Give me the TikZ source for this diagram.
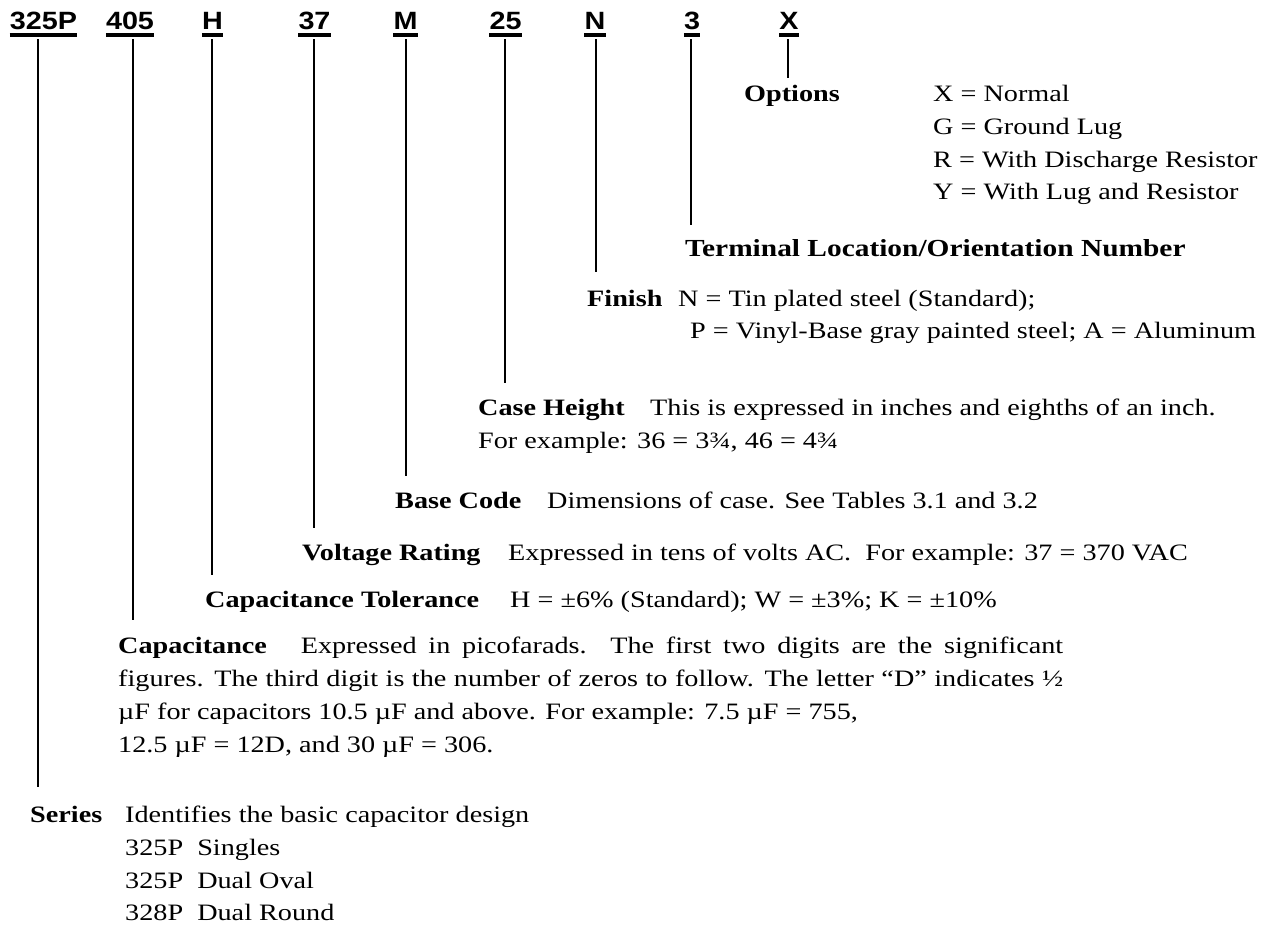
\documentclass[tikz,border=0pt]{standalone}
\usepackage{fontspec}
\setmainfont{Liberation Serif}[FakeStretch=1.2]
\setsansfont{Liberation Sans}[FakeStretch=1.15]
\usetikzlibrary{positioning}

\tikzset{
  codelbl/.style={font=\fontsize{25}{30}\selectfont\sffamily\bfseries, inner sep=0pt, anchor=base, text depth=9pt},
  uline/.style={line width=3.3pt},
  lead/.style={line width=2.2pt},
  desc/.style={font=\fontsize{23.5}{33}\selectfont, inner sep=0pt, anchor=base west},
  head/.style={desc, font=\fontsize{23.5}{33}\selectfont\bfseries},
}

\begin{document}
\begin{tikzpicture}[x=1pt,y=-1pt]
\fill[white] (0,0) rectangle (1276,925);
% part number
\node[codelbl] (c325) at (43.5,30) {325P};
\node[codelbl] (c405) at (130,30) {405};
\node[codelbl] (cH) at (212.5,30) {H};
\node[codelbl] (c37) at (314.5,30) {37};
\node[codelbl] (cM) at (405.5,30) {M};
\node[codelbl] (c25) at (505.5,30) {25};
\node[codelbl] (cN) at (595,30) {N};
\node[codelbl] (c3) at (692,30) {3};
\node[codelbl] (cX) at (789,30) {X};
\draw[uline] ([yshift=-5pt]c325.base west) -- ([yshift=-5pt]c325.base east);
\draw[uline] ([yshift=-5pt]c405.base west) -- ([yshift=-5pt]c405.base east);
\draw[uline] ([yshift=-5pt]cH.base west) -- ([yshift=-5pt]cH.base east);
\draw[uline] ([yshift=-5pt]c37.base west) -- ([yshift=-5pt]c37.base east);
\draw[uline] ([yshift=-5pt]cM.base west) -- ([yshift=-5pt]cM.base east);
\draw[uline] ([yshift=-5pt]c25.base west) -- ([yshift=-5pt]c25.base east);
\draw[uline] ([yshift=-5pt]cN.base west) -- ([yshift=-5pt]cN.base east);
\draw[uline] ([yshift=-5pt]c3.base west) -- ([yshift=-5pt]c3.base east);
\draw[uline] ([yshift=-5pt]cX.base west) -- ([yshift=-5pt]cX.base east);
% ends of the leads
\coordinate (e325) at (38,787);
\coordinate (e405) at (133,620);
\coordinate (eH) at (212,575);
\coordinate (e37) at (314,528);
\coordinate (eM) at (406,476);
\coordinate (e25) at (505,383);
\coordinate (eN) at (596,272);
\coordinate (e3) at (691,225);
\coordinate (eX) at (788,78);
\draw[lead] (c325.south -| e325) -- (e325);
\draw[lead] (c405.south -| e405) -- (e405);
\draw[lead] (cH.south -| eH) -- (eH);
\draw[lead] (c37.south -| e37) -- (e37);
\draw[lead] (cM.south -| eM) -- (eM);
\draw[lead] (c25.south -| e25) -- (e25);
\draw[lead] (cN.south -| eN) -- (eN);
\draw[lead] (c3.south -| e3) -- (e3);
\draw[lead] (cX.south -| eX) -- (eX);
% descriptions
\node[head] (opt) at (744,102) {Options};
\node[desc] (optx) at (933,102) {X = Normal};
\node[desc] (optg) at (933,135) {G = Ground Lug};
\node[desc] (optr) at (933,168) {R = With Discharge Resistor};
\node[desc] (opty) at (933,200) {Y = With Lug and Resistor};
\node[head, font=\fontsize{24.5}{33}\selectfont\bfseries] (term) at (685,257) {Terminal Location/Orientation Number};
\node[head] (fin) at (587,306) {Finish};
\node[desc] (finn) at (678,306) {N = Tin plated steel (Standard);};
\node[desc] (finp) at (690,338) {P = Vinyl-Base gray painted steel; A = Aluminum};
\node[head] (cas) at (478,415) {Case Height};
\node[desc] (casd) at (650,415) {This is expressed in inches and eighths of an inch.};
\node[desc] (case) at (478,448) {For example: 36 = 3¾, 46 = 4¾};
\node[head] (bas) at (395,508) {Base Code};
\node[desc] (basd) at (547,508) {Dimensions of case. See Tables 3.1 and 3.2};
\node[head] (vol) at (302,560) {Voltage Rating};
\node[desc] (vold) at (508,560) {Expressed in tens of volts AC.\ \ For example: 37 = 370 VAC};
\node[head] (tol) at (205,607) {Capacitance Tolerance};
\node[desc] (told) at (510,607) {H = ±6\% (Standard); W = ±3\%; K = ±10\%};
\node[desc] (cap) at (118,653) {\parbox[t]{945pt}{\textbf{Capacitance}\hspace{22pt} Expressed in picofarads.  The first two digits are the significant\linebreak
  figures.  The third digit is the number of zeros to follow.  The letter “D” indicates ½\linebreak
  µF for capacitors 10.5~µF and above.  For example: 7.5~µF = 755,\newline
  12.5~µF = 12D, and 30~µF = 306.}};
\node[head] (ser) at (30,822) {Series};
\node[desc] (serd) at (125,822) {Identifies the basic capacitor design};
\node[desc] (ser1) at (125,855) {325P~~Singles};
\node[desc] (ser2) at (125,888) {325P~~Dual Oval};
\node[desc] (ser3) at (125,920) {328P~~Dual Round};
\end{tikzpicture}
\end{document}
